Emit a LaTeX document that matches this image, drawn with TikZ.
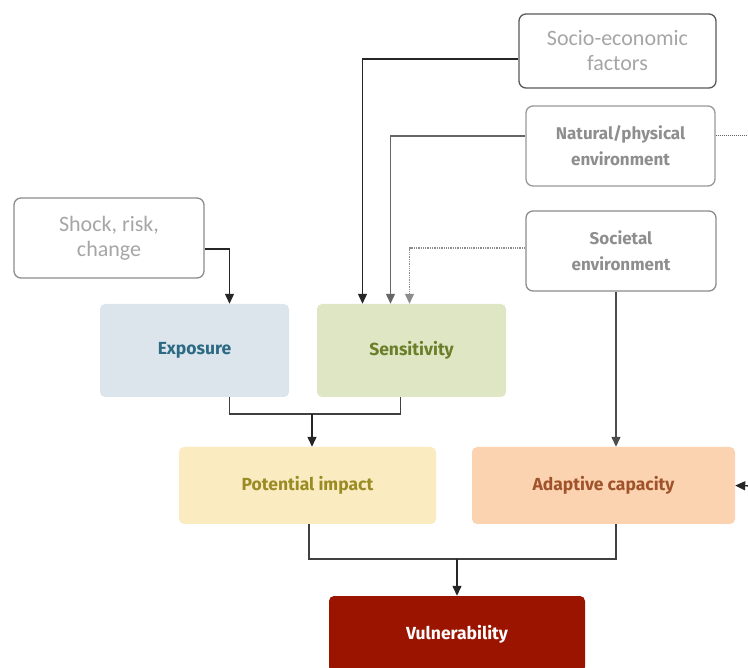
\documentclass[tikz,border=0pt]{standalone}
\usepackage{fontspec}
\setmainfont{Carlito}
\newfontfamily\boxfont{Fira Sans}
\usetikzlibrary{arrows.meta}

\definecolor{expoFill}{HTML}{DCE4EC}
\definecolor{expoText}{HTML}{2C6A84}
\definecolor{sensFill}{HTML}{DFE6C4}
\definecolor{sensText}{HTML}{6B7F2A}
\definecolor{impFill}{HTML}{FAEBC0}
\definecolor{impText}{HTML}{9A8C25}
\definecolor{adapFill}{HTML}{FBD3B1}
\definecolor{adapText}{HTML}{A0532A}
\definecolor{vulnFill}{HTML}{9A1400}
\definecolor{lightText}{HTML}{A6A6A6}
\definecolor{midText}{HTML}{8E8E8E}

\begin{document}
\begin{tikzpicture}[x=1pt,y=-1pt,
	factor/.style={rectangle,rounded corners=7pt,draw=#1,line width=1.3pt,fill=white,align=center,inner sep=0pt},
	component/.style={rectangle,rounded corners=5pt,align=center,inner sep=0pt,font=\boxfont\bfseries\fontsize{17.5}{20}\selectfont},
	link/.style={draw=#1,line width=1.3pt,-{Triangle[length=10pt,width=9pt]}},
	link/.default=black!85]
\useasboundingbox (0,0) rectangle (748,668);

	\node[factor=black!65,minimum width=197pt,minimum height=74pt,text=lightText,font=\fontsize{22}{25}\selectfont] (socio) at (617.5,51) {Socio-economic \\ factors};
	\node[factor=black!40,minimum width=189pt,minimum height=80pt,text=midText,font=\boxfont\bfseries\fontsize{17}{26}\selectfont] (natural) at (620.5,146) {Natural/physical \\ environment};
	\node[factor=black!45,minimum width=190pt,minimum height=80pt,text=midText,font=\boxfont\bfseries\fontsize{17}{26}\selectfont] (societal) at (621,251) {Societal \\ environment};
	\node[factor=black!45,minimum width=190pt,minimum height=80pt,text=lightText,font=\fontsize{22}{25}\selectfont] (shock) at (109,238) {Shock, risk, \\ change};

	\node[component,fill=expoFill,text=expoText,minimum width=189pt,minimum height=93pt] (expo) at (194.5,350.5) {Exposure};
	\node[component,fill=sensFill,text=sensText,minimum width=189pt,minimum height=93pt] (sens) at (411.5,350.5) {Sensitivity};
	\node[component,fill=impFill,text=impText,minimum width=257pt,minimum height=77pt] (impact) at (307.5,485.5) {Potential impact};
	\node[component,fill=adapFill,text=adapText,minimum width=263pt,minimum height=77pt] (adapt) at (603.5,485.5) {Adaptive capacity};
	\node[component,fill=vulnFill,text=white,minimum width=256pt,minimum height=76pt] (vuln) at (457,634) {Vulnerability};

	\coordinate (natOut) at (752,136);
	\coordinate (capIn) at (752,486);
	\coordinate (jointA) at (312,414);
	\coordinate (jointB) at (457,559);

\draw[link] ([yshift=-8pt]socio.west) -| ([xshift=-49pt]sens.north);
\draw[link=black!60] ([yshift=10pt]natural.west) -| ([xshift=-21pt]sens.north);
\draw[link=black!45,densely dotted] ([yshift=3pt]societal.west) -| ([xshift=-2pt]sens.north);
\draw[link] ([yshift=-11pt]shock.east) -| ([xshift=35pt]expo.north);
\draw[black!60,densely dotted,line width=1pt] ([yshift=10pt]natural.east) -- (natOut);

\draw[black!75,line width=1.3pt] ([xshift=35pt]expo.south) |- (jointA) -| ([xshift=-11pt]sens.south);
\draw[link] (jointA) -- (jointA |- impact.north);
\draw[link=black!70] ([xshift=-5pt]societal.south) -- ([xshift=-5pt]societal.south |- adapt.north);
\draw[link] (capIn) -- (adapt.east);

\draw[black!75,line width=1.3pt] ([xshift=1.5pt]impact.south) |- (jointB) -| ([xshift=12.5pt]adapt.south);
\draw[link] (jointB) -- (vuln.north);

\end{tikzpicture}
\end{document}
